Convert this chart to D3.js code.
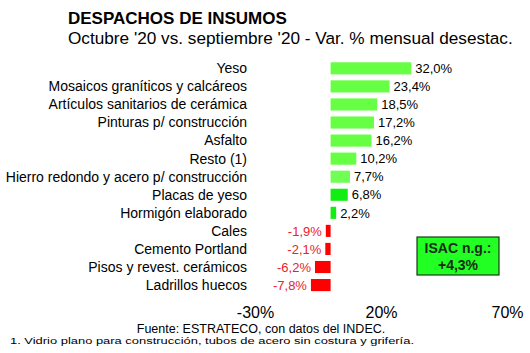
<!DOCTYPE html>
<html>
<head>
<meta charset="utf-8">
<script src="https://cdn.jsdelivr.net/npm/d3@7"></script>
<style>
  body { margin: 0; background: #fff; }
  svg { font-family: "Liberation Sans", Arial, sans-serif; }
</style>
</head>
<body>
<div id="chart"></div>
<script>
/* Despachos de insumos - variacion mensual desestacionalizada */

const categories = [
    "Yeso",
    "Mosaicos graníticos y calcáreos",
    "Artículos sanitarios de cerámica",
    "Pinturas p/ construcción",
    "Asfalto",
    "Resto (1)",
    "Hierro redondo y acero p/ construcción",
    "Placas de yeso",
    "Hormigón elaborado",
    "Cales",
    "Cemento Portland",
    "Pisos y revest. cerámicos",
    "Ladrillos huecos"
];
const values = [32.0, 23.4, 18.5, 17.2, 16.2, 10.2, 7.7, 6.8, 2.2, -1.9, -2.1, -6.2, -7.8];
const tickValues = [-30, 20, 70];
const isacLines = ["ISAC n.g.:", "+4,3%"];

const width = 530,
      height = 353;

// spanish style numbers, plain hyphen as minus
const es = d3.formatLocale({ decimal: ",", thousands: ".", grouping: [3], currency: ["$", ""], minus: "-" });
const fmt = v => es.format(".1f")(v) + "%";

let svg = d3.select("#chart")
    .append("svg")
    .attr("width", width)
    .attr("height", height);

let x = d3.scaleLinear()
    .domain([-30, 70])
    .range([255, 507]);

let y = d3.scaleBand()
    .domain(categories)
    .range([59.3, 294.1])
    .paddingInner(0.33)
    .paddingOuter(0.165);

// titles
svg.append("text")
    .attr("x", 68).attr("y", 23.5)
    .style("font-size", "17px").style("font-weight", "bold")
    .text("DESPACHOS DE INSUMOS");

svg.append("text")
    .attr("x", 68).attr("y", 43.5)
    .style("font-size", "17.2px")
    .text("Octubre '20 vs. septiembre '20 - Var. % mensual desestac.");

// category labels
svg.append("g")
    .selectAll("text")
    .data(categories)
    .join("text")
    .attr("x", 247)
    .attr("y", d => y(d) + y.bandwidth() / 2)
    .attr("dy", "0.35em")
    .attr("text-anchor", "end")
    .style("font-size", "14px")
    .text(d => d);

// bars
const greens = ["#66ff44", "#66ff44", "#66ff44", "#66ff44", "#66ff44", "#66ff44", "#70ff55", "#11ee11", "#11ee11"];

let bar = svg.selectAll(".bar")
    .data(values)
    .join("g")
    .attr("class", "bar");

bar.append("rect")
    .attr("x", d => x(Math.min(0, d)))
    .attr("y", (d, i) => y(categories[i]))
    .attr("width", d => Math.abs(x(d) - x(0)))
    .attr("height", y.bandwidth())
    .attr("fill", (d, i) => d < 0 ? "#ff0000" : greens[i]);

bar.append("text")
    .attr("x", d => d < 0 ? x(d) - 4 : x(d) + 4)
    .attr("y", (d, i) => y(categories[i]) + y.bandwidth() / 2)
    .attr("dy", "0.36em")
    .attr("text-anchor", d => d < 0 ? "end" : "start")
    .style("font-size", "13px")
    .style("fill", d => d < 0 ? "#e8232a" : "#000")
    .text(fmt);

// x axis (labels only)
const xAxis = g => g
    .attr("transform", `translate(0,${304})`)
    .call(d3.axisBottom(x).tickValues(tickValues).tickFormat(d => d + "%").tickSize(0))
    .call(g => g.select(".domain").remove())
    .call(g => g.selectAll("text")
        .style("font-size", "16px")
        .style("font-family", "'Liberation Sans', Arial, sans-serif")
        .attr("fill", "#000"));

svg.append("g").call(xAxis);

// ISAC box
let box = svg.append("g");
box.append("rect")
    .attr("x", 417).attr("y", 237)
    .attr("width", 82).attr("height", 38)
    .attr("fill", "#22ff22")
    .attr("stroke", "#1a3a1a")
    .attr("stroke-width", 1.2);

box.selectAll("text")
    .data(isacLines)
    .join("text")
    .attr("x", 458)
    .attr("y", (d, i) => 253 + i * 16.5)
    .attr("text-anchor", "middle")
    .style("font-size", "14px")
    .style("font-weight", "bold")
    .style("fill", "#1a2a1a")
    .text(d => d);

// sources
svg.append("text")
    .attr("x", 261).attr("y", 332.5)
    .attr("text-anchor", "middle")
    .style("font-size", "12.5px")
    .text("Fuente: ESTRATECO, con datos del INDEC.");

svg.append("text")
    .attr("x", 10).attr("y", 344)
    .attr("textLength", 404)
    .attr("lengthAdjust", "spacingAndGlyphs")
    .style("font-size", "8.5px")
    .text("1. Vidrio plano para construcción, tubos de acero sin costura y grifería.");
</script>
</body>
</html>
